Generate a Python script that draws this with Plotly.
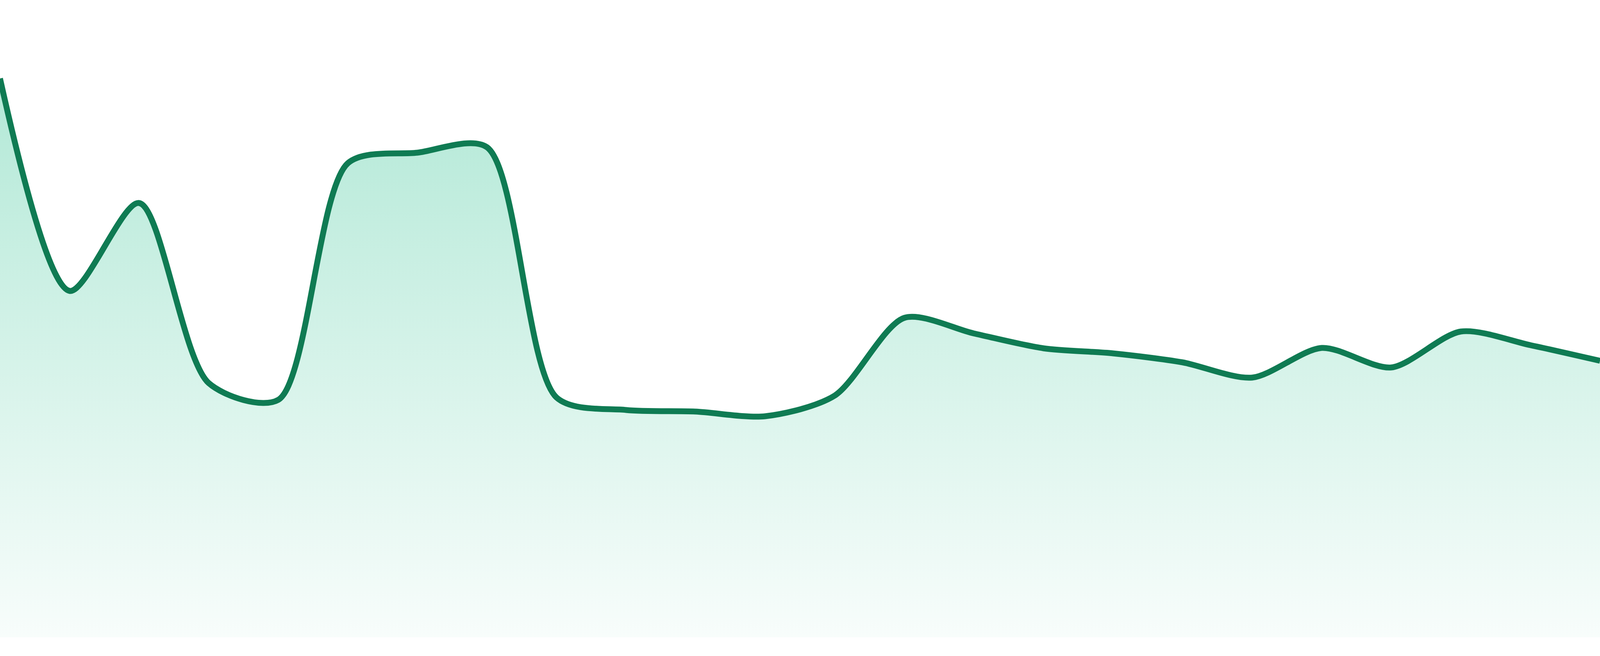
import plotly.graph_objects as go

# Data (24 evenly spaced samples)
periods = list(range(24))
values = [143.1, 88.7, 111.2, 65.1, 60.8, 121.4, 124.1, 125.5,
          61.4, 58.2, 57.8, 56.6, 61.9, 81.8, 77.8, 74.0,
          72.7, 70.4, 66.5, 74.1, 69.1, 78.3, 74.8, 70.8]

line_color = '#0f7b53'

fig = go.Figure(go.Scatter(
    x=periods,
    y=values,
    mode='lines',
    line=dict(color=line_color, width=15, shape='spline', smoothing=0.8),
    fill='tozeroy',
    fillgradient=dict(
        type='vertical',
        start=0,
        stop=max(values),
        colorscale=[[0, 'rgba(16,185,129,0.03)'], [1, 'rgba(16,185,129,0.32)']],
    ),
    hoverinfo='skip',
))

fig.update_layout(
    autosize=True,
    margin=dict(l=0, r=0, t=0, b=0),
    paper_bgcolor='white',
    plot_bgcolor='white',
    showlegend=False,
    xaxis=dict(visible=False, range=[0, 23], fixedrange=True),
    yaxis=dict(visible=False, range=[-4.8, 163.2], fixedrange=True),
)

# fill the whole window: drop the default page margin, then refit the plot
fig.write_html(
    "out.html",
    default_width='100vw',
    default_height='100vh',
    config={'displayModeBar': False},
    post_script=(
        "document.body.style.margin='0';"
        "document.body.style.overflow='hidden';"
        "Plotly.Plots.resize(document.getElementById('{plot_id}'));"
    ),
)
